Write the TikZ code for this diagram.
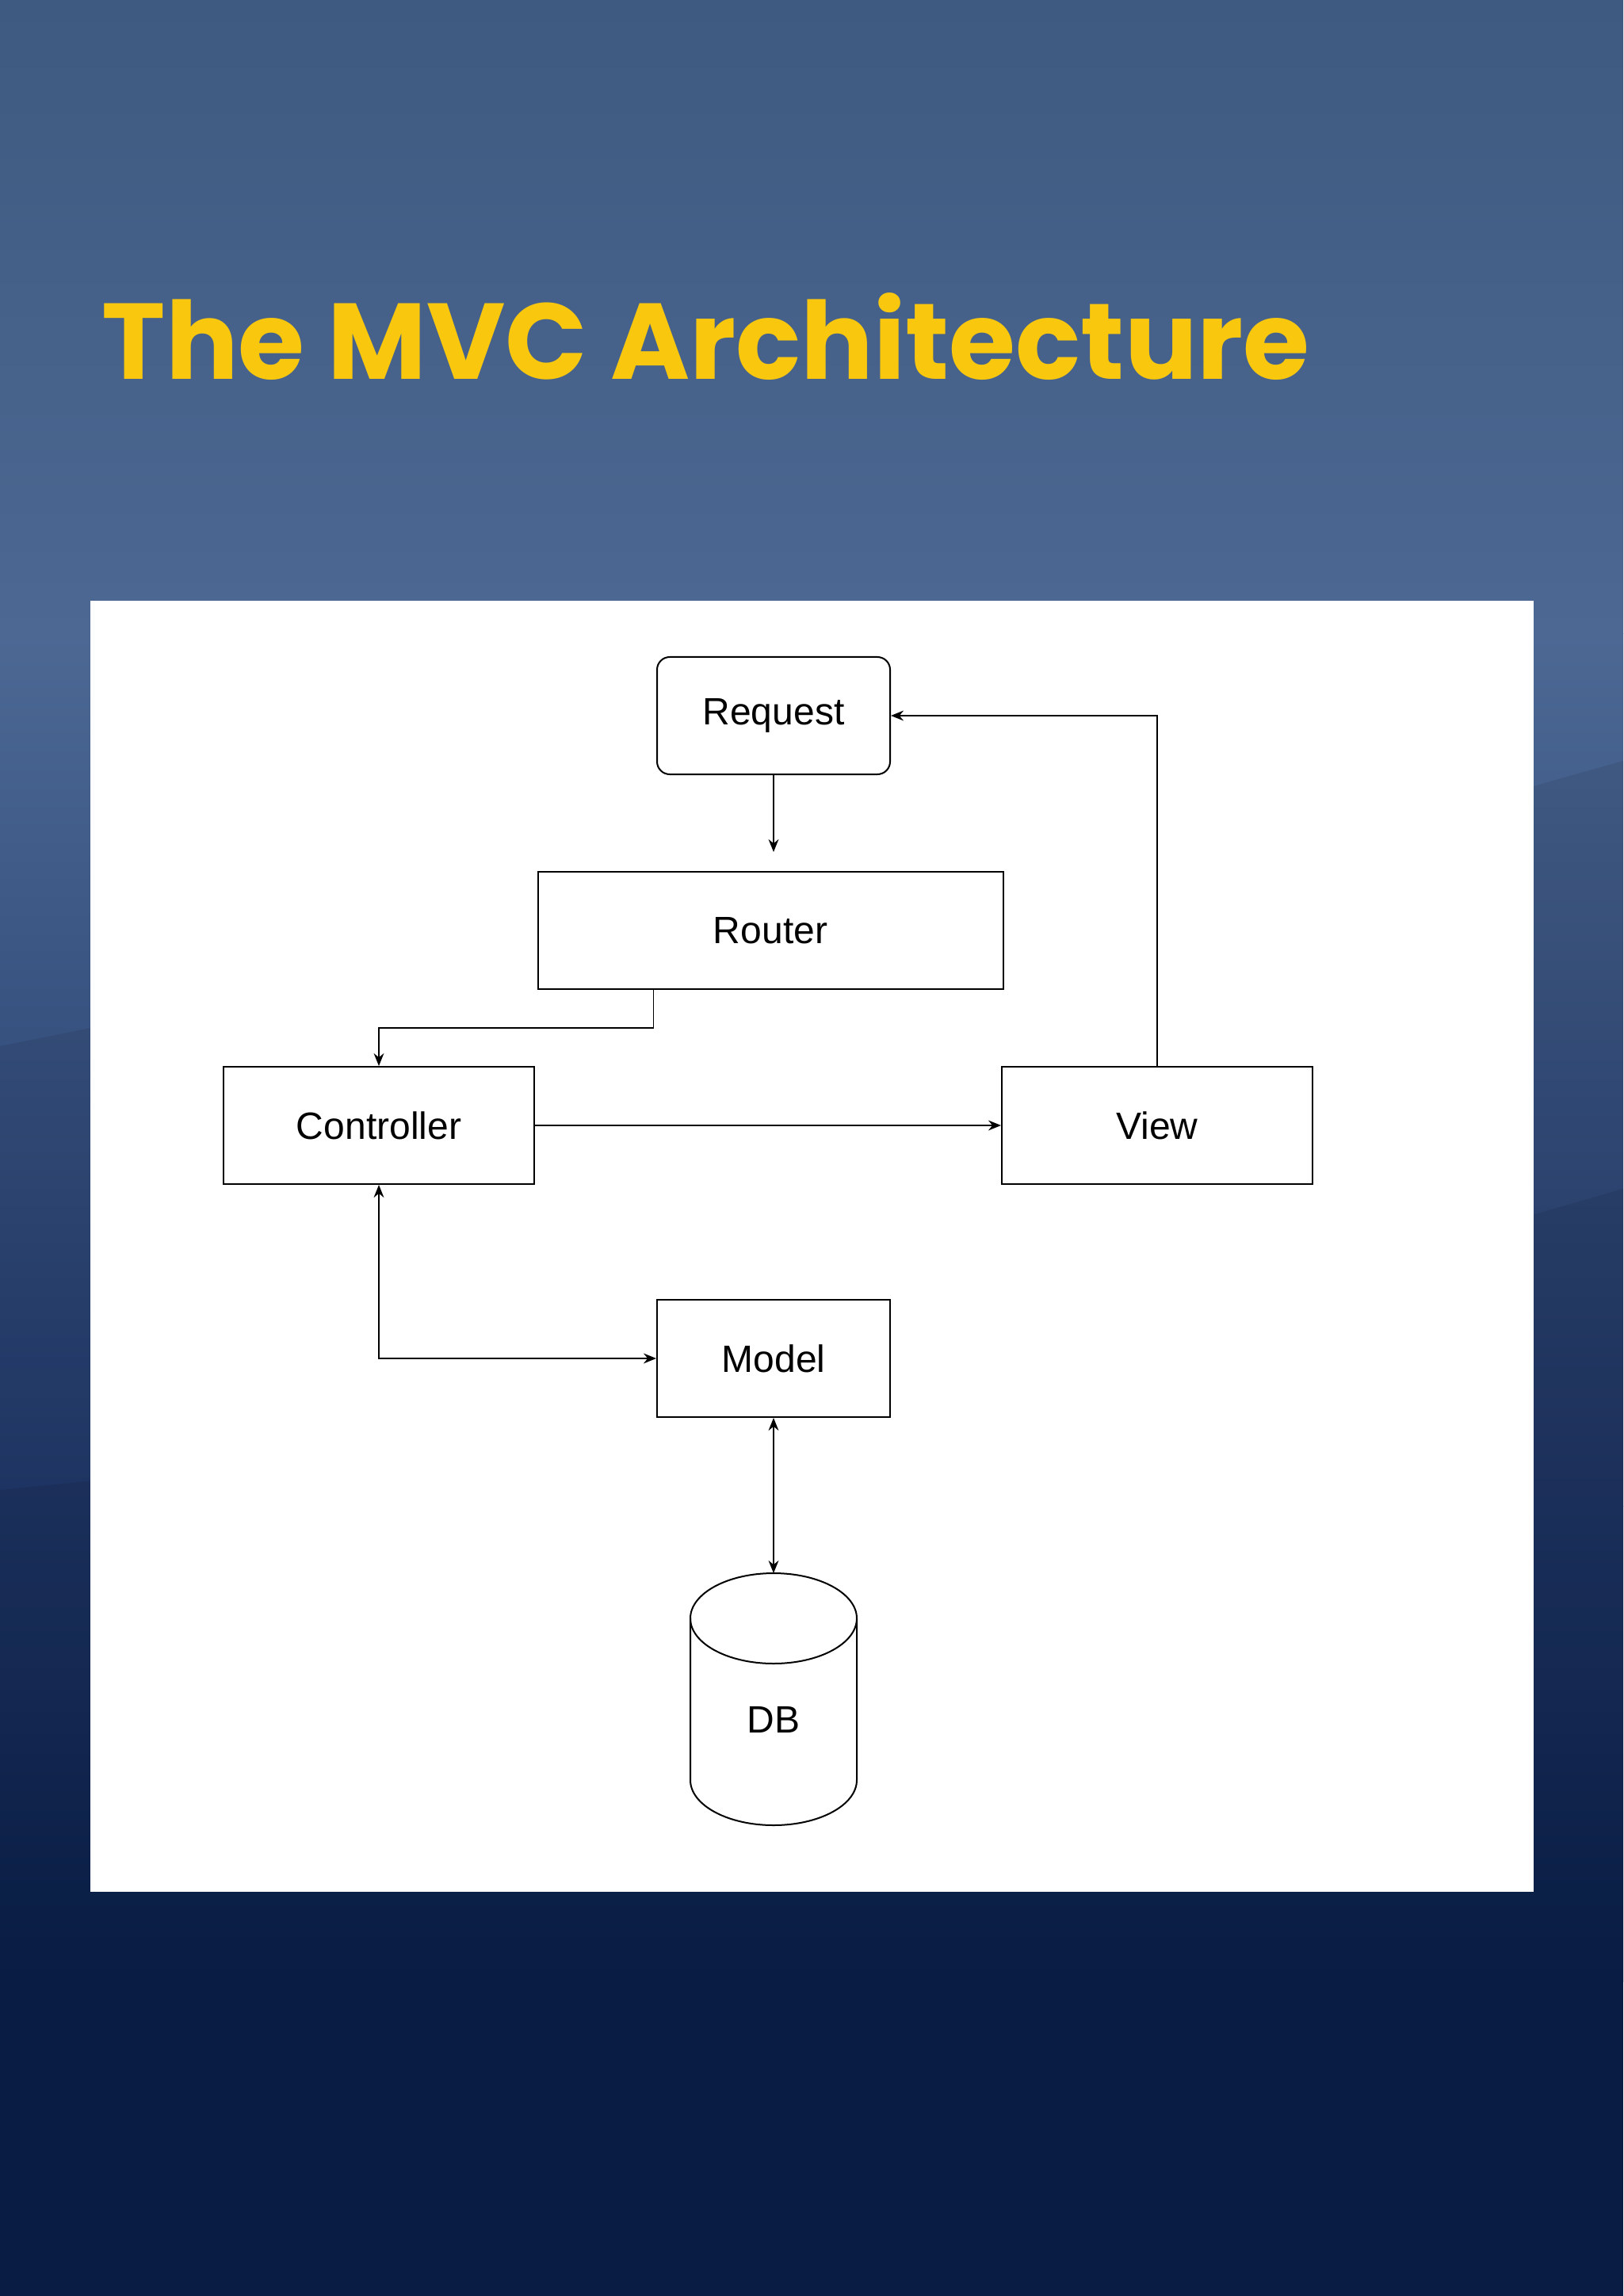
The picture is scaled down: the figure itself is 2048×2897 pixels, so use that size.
\documentclass[tikz,border=0pt]{standalone}
\usepackage{fontspec}
\setmainfont{Liberation Sans}
\newfontfamily\titlefont{Poppins}
\usetikzlibrary{arrows.meta}
\definecolor{bgtop}{HTML}{3F5A80}
\definecolor{bgmid}{HTML}{4C6893}
\definecolor{bglow}{HTML}{20386A}
\definecolor{bgbot}{HTML}{0B2250}
\definecolor{ttl}{HTML}{F9C80E}
\begin{document}
\begin{tikzpicture}[x=0.25pt,y=-0.25pt,
  box/.style={draw=black,line width=0.5pt,fill=white,minimum width=98pt,minimum height=37pt,inner sep=0pt,font=\fontsize{12}{14}\selectfont},
  conn/.style={line width=0.45pt,-{Stealth[length=4pt,width=3.2pt]}},
  bconn/.style={line width=0.45pt,{Stealth[length=4pt,width=3.2pt]}-{Stealth[length=4pt,width=3.2pt]}}]
\useasboundingbox (0,0) rectangle (2048,2897);
\shade[top color=bgtop,bottom color=bgmid] (0,0) rectangle (2048,800);
\shade[top color=bgmid,bottom color=bglow] (0,800) rectangle (2048,1900);
\shade[top color=bglow,bottom color=bgbot] (0,1900) rectangle (2048,2500);
\fill[bgbot] (0,2500) rectangle (2048,2897);
% faint mountain silhouettes
\fill[black,opacity=0.08] (0,1320) -- (150,1290) -- (400,1330) -- (700,1300) -- (1000,1340) -- (1400,1250) -- (1800,1030) -- (2048,960) -- (2048,2897) -- (0,2897) -- cycle;
\fill[black,opacity=0.08] (0,1880) -- (300,1850) -- (700,1890) -- (1200,1820) -- (1700,1600) -- (2048,1500) -- (2048,2897) -- (0,2897) -- cycle;
\node[anchor=west,text=ttl,inner sep=0pt,font=\titlefont\bfseries\fontsize{34}{40}\selectfont] (title) at (128,425) {The MVC Architecture};
\fill[white] (114,758) rectangle (1935,2387);
\node[box,rounded corners=4pt,minimum width=73.5pt] (req) at (976,903) {Request};
\node[box,minimum width=146.75pt] (router) at (972,1174) {Router};
\node[box] (ctrl) at (478,1420) {Controller};
\node[box] (view) at (1460,1420) {View};
\node[box,minimum width=73.5pt] (model) at (976,1714) {Model};
% DB cylinder
\draw[line width=0.5pt,fill=white] (871,2042) -- (871,2246) arc[start angle=180,end angle=0,x radius=105,y radius=57] -- (1081,2042) arc[start angle=0,end angle=-180,x radius=105,y radius=57] -- cycle;
\draw[line width=0.5pt] (871,2042) arc[start angle=180,end angle=0,x radius=105,y radius=57];
\node[font=\fontsize{12}{14}\selectfont,inner sep=0pt] (db) at (976,2170) {DB};
\coordinate (dbtop) at (976,1985);
\coordinate (reqend) at (976,1075);
\draw[conn] (req.south) -- (reqend);
\draw[conn] (router.south west) ++(147,0) |- (478,1297) -- (ctrl.north);
\draw[conn] (ctrl.east) -- (view.west);
\draw[conn] (view.north) |- (req.east);
\draw[bconn] (ctrl.south) |- (model.west);
\draw[bconn] (model.south) -- (dbtop);
\end{tikzpicture}
\end{document}
